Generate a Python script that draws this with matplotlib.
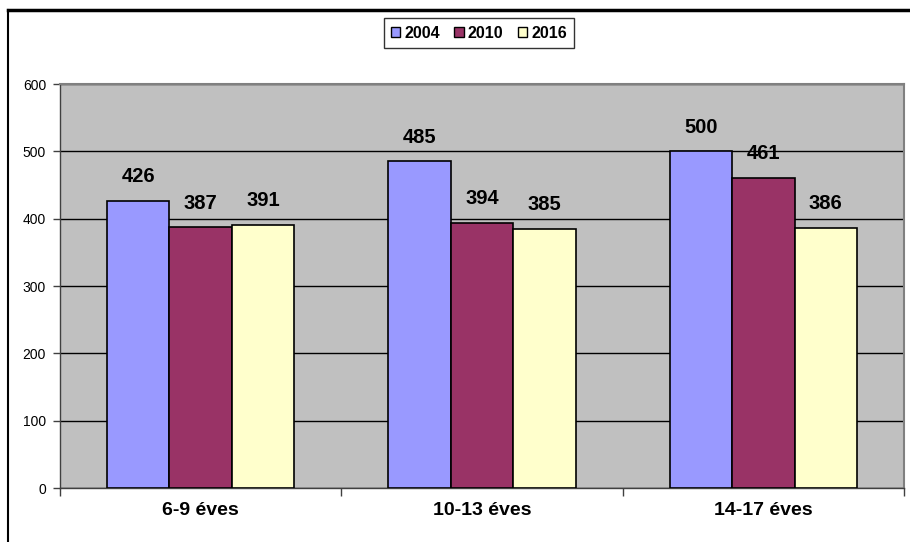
import matplotlib
matplotlib.use("Agg")
import matplotlib.pyplot as plt
import numpy as np
from matplotlib.lines import Line2D
from matplotlib.patches import Patch

plt.rcParams['font.family'] = ['Liberation Sans', 'DejaVu Sans']

categories = ['6-9 éves', '10-13 éves', '14-17 éves']
series_names = ['2004', '2010', '2016']
values_2004 = [426, 485, 500]
values_2010 = [387, 394, 461]
values_2016 = [391, 385, 386]
colors = ['#9999FF', '#993366', '#FFFFCC']
yticks = [0, 100, 200, 300, 400, 500, 600]

W, H = 910, 542
fig = plt.figure(figsize=(W/100, H/100), dpi=100)
fig.patch.set_facecolor('white')

# axes in pixel coords
l, r, t, b = 60, 904, 84, 488
ax = fig.add_axes([l/W, 1 - b/H, (r-l)/W, (b-t)/H])
ax.set_facecolor('#C0C0C0')

series = [values_2004, values_2010, values_2016]
n = len(categories)
x = np.arange(n)
w = 1/4.5
for i, (vals, c, name) in enumerate(zip(series, colors, series_names)):
    pos = x + (i - 1) * w
    ax.bar(pos, vals, width=w, color=c, edgecolor='black', linewidth=1.2, zorder=3, label=name)
    for px, v in zip(pos, vals):
        ax.annotate(str(v), (px, v), xytext=(0, 13.5), textcoords='offset points',
                    ha='center', va='baseline', fontsize=14.5, fontweight='bold', zorder=4)

ax.set_xlim(-0.5, n - 0.5)
ax.set_ylim(0, 600)
ax.set_yticks(yticks)
ax.set_yticklabels([str(v) for v in yticks], fontsize=10)
ax.yaxis.grid(True, color='black', linewidth=1, zorder=1)
ax.set_axisbelow(True)

ax.set_xticks(np.arange(n + 1) - 0.5, minor=False)
ax.set_xticklabels([])
ax.set_xticks(x, minor=True)
ax.set_xticklabels(categories, minor=True, fontsize=14, fontweight='bold')
ax.tick_params(axis='x', which='minor', length=0, pad=10)
ax.tick_params(axis='x', which='major', length=6, width=1, color='#404040', direction='out')
ax.tick_params(axis='y', length=5, width=1, color='#404040', direction='out', pad=5)

for s in ['top', 'right']:
    ax.spines[s].set_color('#808080')
    ax.spines[s].set_linewidth(1.5)
for s in ['left', 'bottom']:
    ax.spines[s].set_color('#404040')
    ax.spines[s].set_linewidth(1)

handles = [Patch(facecolor=c, edgecolor='black', linewidth=1) for c in colors]
leg = fig.legend(handles, series_names, loc='center', bbox_to_anchor=(479/W, 1 - 33/H),
                 ncol=3, frameon=True, fancybox=False, handlelength=0.6, handleheight=0.6,
                 handletextpad=0.25, columnspacing=0.9, borderpad=0.45,
                 prop={'weight': 'bold', 'size': 11.5})
leg.get_frame().set_edgecolor('black')
leg.get_frame().set_linewidth(1)

# outer chart border (partial)
fig.add_artist(Line2D([8/W, 1], [1 - 10/H, 1 - 10/H], color='black', linewidth=2.5, transform=fig.transFigure))
fig.add_artist(Line2D([8/W, 8/W], [0, 1 - 10/H], color='black', linewidth=1.5, transform=fig.transFigure))

fig.savefig('out.png', dpi=100, facecolor='white')
